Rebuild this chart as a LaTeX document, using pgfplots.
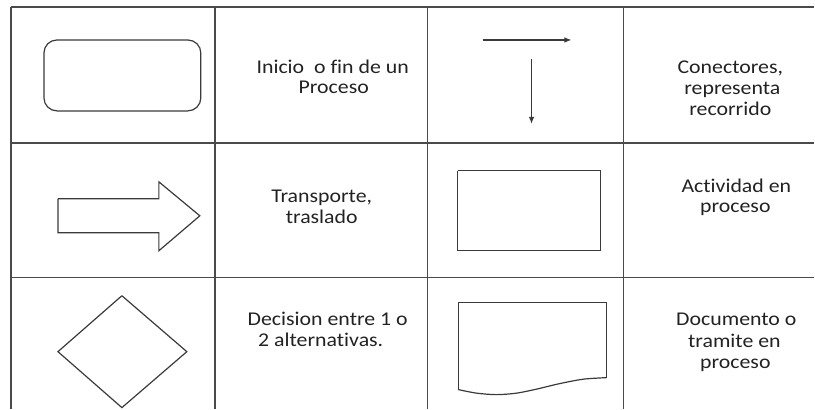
\documentclass[border=0pt]{standalone}
\usepackage{pgfplots}
\pgfplotsset{compat=1.18}
\usepackage{fontspec}
\setmainfont[Ligatures=NoCommon]{Carlito}
\usepackage{graphicx}
\usetikzlibrary{arrows.meta}
\definecolor{gridc}{HTML}{4A4A4A}
\definecolor{shapec}{HTML}{3A3A3A}
\definecolor{txtc}{HTML}{222222}
\newcommand{\lbl}[3]{\node[anchor=base,inner sep=0pt,text=txtc,font=\fontsize{19.5}{21}\selectfont] at (axis cs:#1,#2) {\scalebox{1.12}[1]{#3}};}
\begin{document}
\begin{tikzpicture}
\begin{axis}[
  width=815pt, height=409pt, scale only axis,
  xmin=0, xmax=815, ymin=0, ymax=409, y dir=reverse,
  hide axis, clip=false,
]
\path (axis cs:0,0) rectangle (axis cs:815,409);
% grid
\addplot[gridc, line width=1.5pt, mark=none] coordinates {(11,7) (815,7)};
\addplot[gridc, line width=1.5pt, mark=none] coordinates {(11,143) (815,143)};
\addplot[gridc, line width=1.5pt, mark=none] coordinates {(11,278) (815,278)};
\addplot[gridc, line width=1.5pt, mark=none] coordinates {(11,7) (11,409)};
\addplot[gridc, line width=1.5pt, mark=none] coordinates {(215,7) (215,409)};
\addplot[gridc, line width=1.5pt, mark=none] coordinates {(428,7) (428,409)};
\addplot[gridc, line width=1.5pt, mark=none] coordinates {(624,7) (624,409)};
% rounded rectangle
\addplot[shapec, line width=1.2pt, mark=none, rounded corners=13pt] coordinates {(120,40) (201,40) (201,111) (44,111) (44,40) (121,40)};
% connectors
\addplot[shapec, line width=1.1pt, mark=none, -{Latex[length=7pt,width=5.5pt]}] coordinates {(483,40) (572,40)};
\addplot[shapec, line width=1.1pt, mark=none, -{Latex[length=7pt,width=5.5pt]}] coordinates {(532,59) (532,124)};
% block arrow
\addplot[shapec, line width=1.2pt, mark=none] coordinates {(58,199) (159,199) (159,182) (200,216) (159,251) (159,233) (58,233) (58,199)};
% rectangle
\addplot[shapec, line width=1.2pt, mark=none] coordinates {(458,171) (601,171) (601,251) (458,251) (458,171)};
% diamond
\addplot[shapec, line width=1.2pt, mark=none] coordinates {(122,296) (187,352) (122,408) (58,352) (122,296)};
% document
\addplot[shapec, line width=1.2pt, mark=none] coordinates {(459,390) (459,303) (607,303) (607,378)};
\addplot[shapec, line width=1.2pt, mark=none, smooth] coordinates {(459,390) (477,393.5) (497,395) (517,393.5) (537,389.5) (560,384) (584,379.5) (607,378)};
% texts
\lbl{333}{74}{Inicio~\ o fin de un}
\lbl{334}{94}{Proceso}
\lbl{731}{74}{Conectores,}
\lbl{733}{95}{representa}
\lbl{731}{116}{recorrido}
\lbl{322}{203}{Transporte,}
\lbl{322}{224}{traslado}
\lbl{737}{193}{Actividad en}
\lbl{736}{213}{proceso}
\lbl{328}{326}{Decision entre 1 o}
\lbl{321}{347}{2 alternativas.}
\lbl{737}{326}{Documento o}
\lbl{735}{348}{tramite en}
\lbl{736}{369}{proceso}
\end{axis}
\end{tikzpicture}
\end{document}
